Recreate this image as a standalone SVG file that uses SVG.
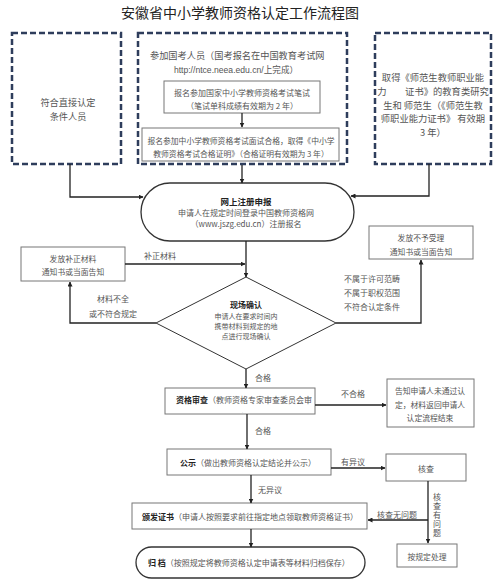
<svg xmlns="http://www.w3.org/2000/svg" width="500" height="583" viewBox="0 0 500 583">
<defs>
<style>
.t{font-family:"Noto Sans CJK SC","Liberation Sans",sans-serif;fill:#555;dominant-baseline:central}
.m{text-anchor:middle}
.b{font-weight:bold;fill:#222}
.dash{fill:#fff;stroke:#2E3D5C;stroke-width:2.5;stroke-dasharray:6 3}
.box{fill:#fff;stroke:#777;stroke-width:1}
.term{fill:#fff;stroke:#333;stroke-width:1.3}
.ln{fill:none;stroke:#222;stroke-width:1.3;marker-end:url(#ah)}
.lb{font-size:8px}
</style>
<marker id="ah" viewBox="0 0 10 10" refX="9" refY="5" markerWidth="5" markerHeight="5" orient="auto" markerUnits="userSpaceOnUse">
<path d="M0,0 L10,5 L0,10 z" fill="#222"/>
</marker>
<clipPath id="c1"><rect x="165" y="388" width="150" height="25"/></clipPath>
</defs>
<rect width="500" height="583" fill="#fff"/>
<text class="t m" x="240" y="12" style="font-size:14px;fill:#222">安徽省中小学教师资格认定工作流程图</text>

<g id="direct">
<rect class="dash" x="12" y="33" width="109" height="131"/>
<text class="t m" x="68" y="102" style="font-size:9.2px">符合直接认定</text>
<text class="t m" x="68" y="116" style="font-size:9.2px">条件人员</text>
</g>

<g id="exam">
<rect class="dash" x="138" y="33" width="209" height="131"/>
<text class="t" x="150" y="55" style="font-size:9.2px">参加国考人员（国考报名在中国教育考试网</text>
<text class="t m" x="236" y="70" style="font-size:8.6px;font-family:'Liberation Sans','Noto Sans CJK SC',sans-serif">http://ntce.neea.edu.cn/上完成）</text>
</g>
<g id="written">
<rect class="box" x="164" y="81" width="156" height="32"/>
<text class="t m" x="242" y="92" style="font-size:8px">报名参加国家中小学教师资格考试笔试</text>
<text class="t m" x="242" y="105" style="font-size:8px">（笔试单科成绩有效期为 2 年）</text>
</g>
<g id="interview">
<rect class="box" x="142" y="128" width="197" height="33"/>
<text class="t m" x="241" y="140" style="font-size:7.8px">报名参加中小学教师资格考试面试合格，取得《中小学</text>
<text class="t m" x="241" y="153" style="font-size:7.8px">教师资格考试合格证明》（合格证明有效期为 3 年）</text>
</g>

<g id="normal">
<rect class="dash" x="375" y="33" width="116" height="131"/>
<text class="t m" x="433" y="77" style="font-size:9.3px">取得《师范生教师职业能</text>
<text class="t m" x="433" y="91" style="font-size:9.3px">力　　证书》的教育类研究</text>
<text class="t m" x="433" y="105" style="font-size:9.3px">生和 师范生（《师范生教</text>
<text class="t m" x="433" y="118" style="font-size:9.3px">师职业能力证书》 有效期</text>
<text class="t m" x="433" y="132" style="font-size:9.3px">3 年）</text>
</g>

<g id="register">
<rect class="term" x="141" y="183" width="213" height="58" rx="29" ry="29"/>
<text class="t m b" x="246" y="201" style="font-size:8.5px">网上注册申报</text>
<text class="t m" x="246" y="212" style="font-size:8px">申请人在规定时间登录中国教师资格网</text>
<text class="t m" x="246" y="223" style="font-size:8px">（www.jszg.edu.cn）注册报名</text>
</g>

<g id="supplement">
<rect class="box" x="21" y="247" width="104" height="34"/>
<text class="t m" x="73" y="258" style="font-size:7.8px">发放补正材料</text>
<text class="t m" x="73" y="271" style="font-size:7.8px">通知书或当面告知</text>
</g>

<g id="reject">
<rect class="box" x="369" y="226" width="104" height="33"/>
<text class="t m" x="421" y="237" style="font-size:7.8px">发放不予受理</text>
<text class="t m" x="421" y="251" style="font-size:7.8px">通知书或当面告知</text>
</g>

<g id="confirm">
<path d="M246,277 L336,323 L246,369 L156,323 Z" fill="#fff" stroke="#333" stroke-width="1"/>
<text class="t m b" x="246" y="304" style="font-size:8px">现场确认</text>
<text class="t m" x="246" y="315.5" style="font-size:7px">申请人在要求时间内</text>
<text class="t m" x="246" y="325.8" style="font-size:7px">携带材料到规定的地</text>
<text class="t m" x="246" y="336.1" style="font-size:7px">点进行现场确认</text>
</g>

<g id="review">
<rect class="box" x="165" y="388" width="150" height="26"/>
<text class="t" x="176" y="399" style="font-size:8px"><tspan class="b">资格审查</tspan>（教师资格专家审查委员会审</text>
<text class="t m" x="246" y="416" clip-path="url(#c1)" style="font-size:7px">查）</text>
</g>

<g id="fail">
<rect class="box" x="387" y="379" width="87" height="48"/>
<text class="t m" x="430" y="390" style="font-size:7.8px">告知申请人未通过认</text>
<text class="t m" x="430" y="404" style="font-size:7.8px">定，材料返回申请人</text>
<text class="t m" x="430" y="417" style="font-size:7.8px">认定流程结束</text>
</g>

<g id="publicity">
<rect class="box" x="167" y="449" width="164" height="26"/>
<text class="t m" x="248" y="462" style="font-size:8px"><tspan class="b">公示</tspan>（做出教师资格认定结论并公示）</text>
</g>

<g id="verify">
<rect class="box" x="386" y="454" width="80" height="27"/>
<text class="t m" x="426" y="468" style="font-size:8px">核查</text>
</g>

<g id="issue">
<rect class="box" x="132" y="503" width="235" height="26"/>
<text class="t m" x="250" y="516" style="font-size:8px"><tspan class="b">颁发证书</tspan>（申请人按照要求前往指定地点领取教师资格证书）</text>
</g>

<g id="handle">
<rect class="box" x="397" y="544" width="60" height="23"/>
<text class="t m" x="427" y="556" style="font-size:7.8px">按规定处理</text>
</g>

<g id="archive">
<rect class="term" x="136" y="547" width="229" height="31" rx="15.5" ry="15.5"/>
<text class="t" x="148" y="562" style="font-size:8px"><tspan class="b">归 档</tspan>（按照规定将教师资格认定申请表等材料归档保存）</text>
</g>

<g id="connectors">
<path class="ln" d="M242,113 V127"/>
<path class="ln" d="M70,164 V197 H143"/>
<path class="ln" d="M242,165 V183"/>
<path class="ln" d="M429,164 V196 H351"/>
<path class="ln" d="M246,241 V277"/>
<path class="ln" d="M125,264 H245"/>
<path class="ln" d="M156,323 H70 V282"/>
<path class="ln" d="M336,323 H421 V260"/>
<path class="ln" d="M246,369 V388"/>
<path class="ln" d="M315,405 H386"/>
<path class="ln" d="M247,414 V449"/>
<path class="ln" d="M331,468 H385"/>
<path class="ln" d="M251,475 V503"/>
<path class="ln" d="M428,481 V543"/>
<path class="ln" d="M428,520 H368"/>
<path class="ln" d="M251,529 V547"/>
<text class="t m lb" x="160" y="255">补正材料</text>
<text class="t m lb" x="113" y="298">材料不全</text>
<text class="t m lb" x="113" y="313">或不符合规定</text>
<text class="t lb" x="344" y="278">不属于许可范畴</text>
<text class="t lb" x="344" y="292">不属于职权范围</text>
<text class="t lb" x="344" y="306">不符合认定条件</text>
<text class="t lb" x="255" y="377">合格</text>
<text class="t m lb" x="353" y="393">不合格</text>
<text class="t lb" x="255" y="430">合格</text>
<text class="t m lb" x="353" y="461">有异议</text>
<text class="t lb" x="258" y="489">无异议</text>
<text class="t m lb" x="397" y="514">核查无问题</text>
<text class="lb" x="437" y="493" style="font-family:'Noto Sans CJK SC',sans-serif;fill:#555;writing-mode:vertical-rl;letter-spacing:1px">核查有问题</text>
</g>
</svg>
